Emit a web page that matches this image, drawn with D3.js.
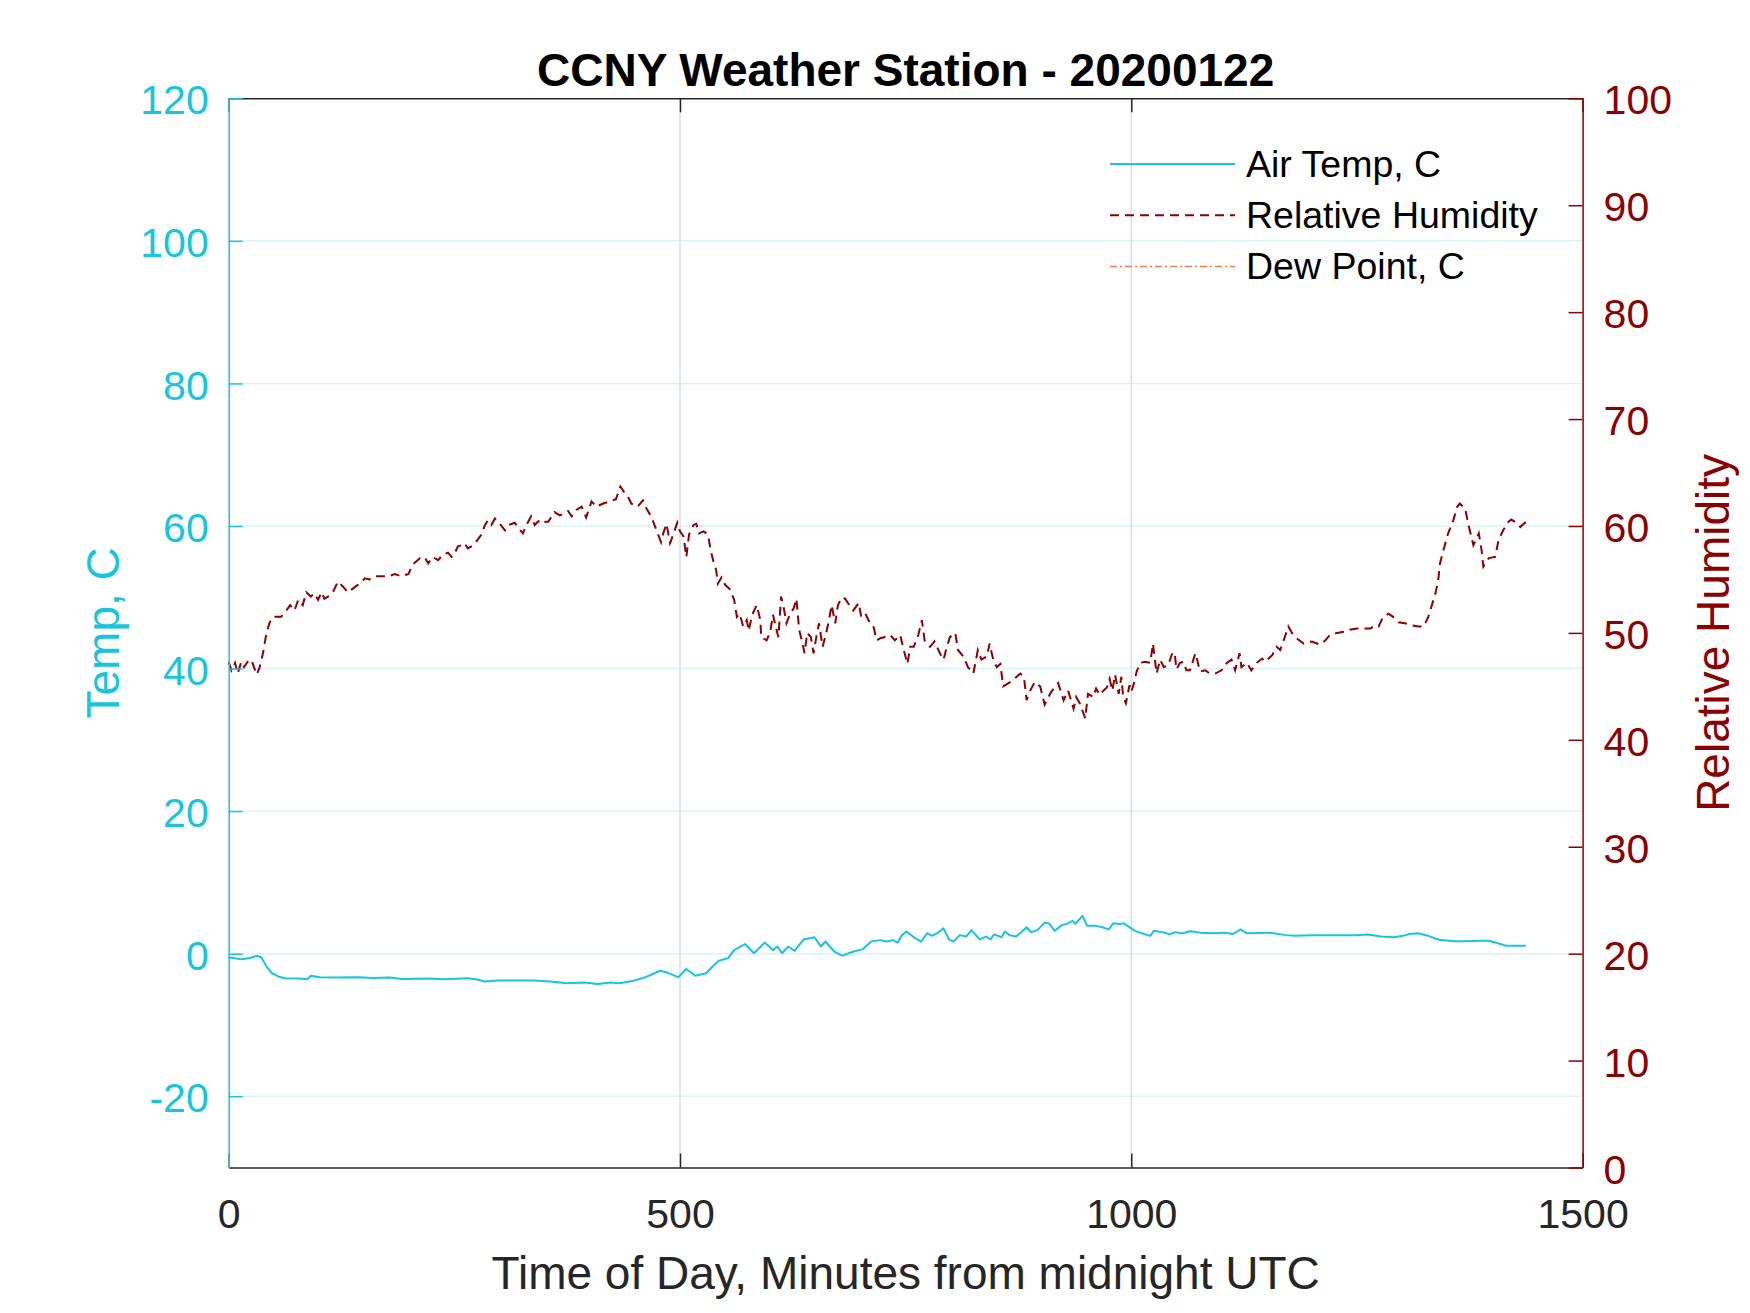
<!DOCTYPE html>
<html>
<head>
<meta charset="utf-8">
<script src="https://cdn.jsdelivr.net/npm/d3@7"></script>
<style>
  body { margin: 0; background: #fff; }
  text { font-family: "Liberation Sans", Arial, sans-serif; }
</style>
</head>
<body>
<div class="visualization"></div>
<script>
// air temperature (minutes from midnight, deg C)
const tempMinutes = [0, 14, 24, 31, 36, 43, 48, 55, 62, 77, 87, 91, 101, 120, 144, 160, 178, 192, 221, 240,
  264, 274, 284, 298, 337, 356, 375, 394, 409, 423, 433, 447, 462, 478, 486, 498, 507, 517, 529, 536,
  543, 553, 560, 572, 582, 594, 603, 608, 613, 620, 627, 637, 649, 656, 661, 671, 680, 692, 702, 712,
  722, 729, 736, 741, 746, 751, 758, 767, 774, 779, 786, 792, 798, 803, 810, 817, 823, 832, 839, 844,
  848, 856, 860, 865, 872, 877, 884, 889, 896, 904, 909, 915, 923, 930, 935, 938, 946, 951, 961, 968,
  975, 980, 987, 992, 997, 1004, 1014, 1021, 1025, 1037, 1042, 1049, 1056, 1065, 1076, 1090, 1104, 1112, 1116, 1121,
  1128, 1152, 1171, 1181, 1200, 1224, 1248, 1262, 1277, 1291, 1301, 1308, 1317, 1329, 1341, 1358, 1372, 1387, 1396, 1406,
  1415, 1437];
const tempValues = [-0.5, -0.8, -0.6, -0.3, -0.5, -2.0, -2.75, -3.2, -3.45, -3.5, -3.6, -3.1, -3.3, -3.35, -3.3, -3.4, -3.35, -3.55, -3.5, -3.6,
  -3.45, -3.6, -3.9, -3.75, -3.75, -3.9, -4.15, -4.05, -4.25, -4.05, -4.15, -3.85, -3.3, -2.4, -2.65, -3.3, -2.15, -3.1, -2.75, -1.8,
  -1.0, -0.65, 0.5, 1.35, 0.05, 1.55, 0.5, 1.0, 0.05, 1.0, 0.4, 2.0, 2.3, 1.0, 1.7, 0.3, -0.3, 0.3, 0.6, 1.7,
  1.9, 1.7, 1.9, 1.55, 2.6, 3.1, 2.4, 1.7, 2.9, 2.5, 2.95, 3.55, 2.0, 1.7, 2.6, 2.4, 3.3, 2.0, 2.4, 2.0,
  2.7, 2.3, 3.1, 2.6, 2.4, 2.85, 3.7, 3.0, 3.3, 4.35, 4.25, 3.2, 4.0, 4.25, 4.6, 4.2, 5.3, 3.9, 3.9, 3.7,
  3.4, 4.25, 4.15, 4.25, 3.8, 3.2, 2.75, 2.5, 3.2, 2.95, 2.7, 3.0, 2.85, 3.15, 2.95, 2.85, 2.95, 2.75, 3.0, 3.4,
  2.85, 2.95, 2.6, 2.5, 2.6, 2.6, 2.6, 2.7, 2.4, 2.3, 2.5, 2.75, 2.85, 2.5, 1.95, 1.75, 1.75, 1.8, 1.8, 1.45,
  1.1, 1.1];

// relative humidity, percent
const rhMinutes = [0, 3, 7, 10, 14, 17, 21, 25, 31, 34, 38, 41, 45, 49, 58, 64, 68, 73, 77, 82,
  86, 91, 95, 99, 103, 106, 112, 116, 121, 127, 132, 140, 145, 151, 156, 162, 169, 177, 184, 191,
  199, 204, 212, 217, 221, 226, 232, 237, 243, 247, 250, 254, 258, 261, 265, 271, 274, 280, 284, 287,
  291, 295, 300, 306, 310, 317, 321, 326, 330, 335, 339, 345, 350, 354, 361, 367, 372, 376, 380, 385,
  391, 396, 402, 407, 415, 422, 429, 434, 439, 442, 446, 453, 459, 463, 468, 474, 479, 481, 485, 489,
  493, 497, 500, 504, 507, 510, 515, 518, 521, 526, 531, 534, 537, 540, 542, 546, 550, 555, 560, 563,
  566, 570, 574, 576, 580, 585, 589, 590, 596, 600, 603, 606, 609, 612, 615, 618, 622, 626, 629, 632,
  635, 638, 641, 645, 648, 651, 654, 658, 662, 665, 668, 672, 675, 679, 683, 686, 692, 698, 701, 706,
  710, 714, 718, 722, 726, 733, 738, 744, 747, 752, 755, 759, 764, 768, 771, 777, 782, 788, 792, 795,
  799, 805, 808, 814, 819, 825, 830, 834, 840, 843, 847, 851, 855, 858, 864, 869, 877, 881, 884, 888,
  893, 899, 904, 910, 914, 919, 925, 930, 936, 939, 943, 949, 952, 958, 961, 965, 969, 973, 976, 979,
  982, 986, 989, 991, 994, 998, 1000, 1003, 1006, 1010, 1015, 1021, 1024, 1028, 1032, 1036, 1041, 1045, 1048, 1050,
  1054, 1058, 1061, 1065, 1071, 1073, 1076, 1082, 1087, 1093, 1100, 1106, 1111, 1115, 1120, 1122, 1128, 1133, 1139, 1145,
  1148, 1156, 1161, 1165, 1170, 1174, 1178, 1183, 1191, 1200, 1209, 1215, 1220, 1228, 1235, 1242, 1250, 1257, 1265, 1270,
  1274, 1279, 1285, 1290, 1296, 1303, 1311, 1318, 1324, 1329, 1333, 1337, 1340, 1342, 1346, 1351, 1357, 1361, 1364, 1370,
  1373, 1379, 1385, 1388, 1390, 1396, 1403, 1407, 1412, 1418, 1421, 1427, 1431, 1436, 1442];
const rhValues = [47.3, 46.5, 47.2, 46.2, 47.3, 46.8, 47.3, 47.5, 46.1, 46.7, 48.1, 49.6, 50.9, 51.5, 51.5, 52.1, 52.6, 52.1, 53.1, 52.6,
  53.8, 53.4, 53.7, 53.1, 53.8, 53.2, 53.5, 53.9, 54.8, 54.3, 53.8, 54.3, 54.6, 55.1, 55.0, 55.3, 55.3, 55.3, 55.5, 55.3,
  55.5, 56.4, 57.0, 57.1, 56.5, 57.1, 56.8, 57.3, 57.5, 57.1, 57.4, 58.1, 58.2, 58.4, 57.9, 58.2, 58.5, 59.2, 60.1, 60.5,
  60.1, 60.7, 60.25, 59.6, 60.1, 60.3, 59.8, 59.3, 60.1, 60.9, 60.1, 60.6, 60.4, 60.4, 61.3, 61.0, 61.2, 61.4, 60.9, 61.5,
  61.8, 60.8, 62.3, 61.8, 62.1, 62.3, 62.5, 63.7, 63.05, 62.8, 62.1, 61.8, 62.4, 61.6, 60.9, 59.6, 58.5, 59.2, 60.2, 58.4,
  59.3, 60.3, 59.5, 59.0, 57.1, 59.2, 60.1, 60.2, 59.3, 59.5, 59.2, 57.7, 56.7, 55.9, 54.6, 55.2, 54.5, 54.1, 53.1, 51.5,
  51.8, 50.6, 51.2, 50.2, 51.7, 52.6, 51.2, 49.6, 49.3, 50.1, 51.7, 50.6, 49.6, 53.4, 52.3, 50.9, 51.8, 52.3, 53.2, 50.3,
  49.3, 48.1, 50.0, 49.6, 48.1, 49.6, 50.9, 48.7, 50.0, 51.2, 52.6, 50.9, 52.6, 53.3, 53.2, 52.8, 52.1, 52.8, 51.4, 51.7,
  51.0, 50.7, 49.3, 49.5, 49.6, 49.8, 49.3, 49.8, 48.7, 47.1, 48.7, 48.7, 49.8, 51.2, 49.3, 48.7, 49.2, 48.1, 47.5, 48.5,
  49.6, 50.0, 48.4, 47.8, 46.8, 46.2, 48.4, 47.5, 47.8, 49.0, 47.5, 46.8, 47.1, 45.0, 45.3, 45.6, 46.2, 45.9, 43.7, 44.6,
  45.4, 45.0, 43.3, 44.3, 44.8, 45.3, 43.7, 44.6, 42.9, 44.0, 43.4, 42.0, 44.3, 44.0, 44.8, 44.2, 44.6, 44.9, 45.7, 44.6,
  46.1, 44.3, 45.9, 44.0, 43.4, 45.1, 44.5, 45.3, 46.4, 47.2, 47.3, 47.2, 49.0, 46.2, 47.5, 46.8, 47.0, 48.0, 48.2, 46.6,
  47.2, 47.3, 46.5, 46.5, 48.1, 47.5, 46.4, 46.5, 46.2, 46.2, 46.5, 47.2, 47.5, 46.5, 48.1, 46.8, 47.2, 46.5, 47.2, 47.6,
  47.3, 47.9, 48.7, 48.4, 49.6, 50.6, 50.0, 49.5, 49.0, 49.2, 48.9, 49.3, 49.8, 50.0, 50.1, 50.3, 50.4, 50.4, 50.4, 50.7,
  50.6, 51.5, 51.8, 51.5, 51.0, 50.9, 50.7, 50.6, 50.6, 51.5, 52.6, 53.7, 54.9, 56.5, 57.8, 59.3, 60.6, 61.8, 62.1, 61.6,
  60.3, 58.2, 59.3, 57.8, 56.2, 57.0, 57.1, 58.7, 59.6, 60.4, 60.6, 60.3, 59.9, 60.3, 60.4];

// dew point series has no drawn values in the picture, only its legend entry
const dewMinutes = [];
const dewValues = [];

const xTicks = [0, 500, 1000, 1500];
const leftTicks = [-20, 0, 20, 40, 60, 80, 100, 120];
const rightTicks = [0, 10, 20, 30, 40, 50, 60, 70, 80, 90, 100];
const legendLabels = ["Air Temp, C", "Relative Humidity", "Dew Point, C"];

const cyan = "#17c5dc";
const darkRed = "#8b0000";
const coral = "#f27d52";
const ink = "#262626";

const W = 1750, H = 1313;
const plotL = 228.7, plotR = 1582.6, plotT = 98.3, plotB = 1167.5;
const tickFont = 41;

const svg = d3.select(".visualization")
  .append("svg")
  .attr("width", W)
  .attr("height", H);

const x = d3.scaleLinear().domain([0, 1500]).range([plotL, plotR]);
const yTemp = d3.scaleLinear().domain([-30, 120]).range([plotB, plotT]);
const yRh = d3.scaleLinear().domain([0, 100]).range([plotB, plotT]);

// grid
svg.append("g").selectAll("line")
  .data(leftTicks.filter(d => d < 120))
  .join("line")
  .attr("x1", plotL).attr("x2", plotR)
  .attr("y1", d => yTemp(d)).attr("y2", d => yTemp(d))
  .attr("stroke", "#d9f4f8").attr("stroke-width", 1.5);

svg.append("g").selectAll("line")
  .data(xTicks.filter(d => d > 0 && d < 1500))
  .join("line")
  .attr("x1", d => x(d)).attr("x2", d => x(d))
  .attr("y1", plotT).attr("y2", plotB)
  .attr("stroke", "#dadee3").attr("stroke-width", 1.5);

// series
const zip = (ms, vs) => ms.map((m, i) => [m, vs[i]]);

svg.append("path")
  .datum(zip(rhMinutes, rhValues))
  .attr("fill", "none")
  .attr("stroke", darkRed)
  .attr("stroke-width", 2)
  .attr("stroke-dasharray", "9,6")
  .attr("d", d3.line().x(d => x(d[0])).y(d => yRh(d[1])));

svg.append("path")
  .datum(zip(dewMinutes, dewValues))
  .attr("fill", "none")
  .attr("stroke", coral)
  .attr("stroke-width", 1.5)
  .attr("stroke-dasharray", "7,3,2,3")
  .attr("d", d3.line().x(d => x(d[0])).y(d => yTemp(d[1])));

svg.append("path")
  .datum(zip(tempMinutes, tempValues))
  .attr("fill", "none")
  .attr("stroke", cyan)
  .attr("stroke-width", 2)
  .attr("stroke-linejoin", "round")
  .attr("d", d3.line().x(d => x(d[0])).y(d => yTemp(d[1])));

// axes
function styleAxis(g, color, size) {
  g.select(".domain").attr("stroke", color).attr("stroke-width", 1.5);
  g.selectAll(".tick line").attr("stroke", color).attr("stroke-width", 1.5);
  g.selectAll(".tick text")
    .attr("fill", color)
    .style("font-size", size + "px")
    .style("font-family", '"Liberation Sans", Arial, sans-serif');
}

svg.append("g")
  .attr("transform", `translate(0,${plotT})`)
  .call(d3.axisTop(x).tickValues(xTicks).tickSize(-14).tickSizeOuter(0).tickFormat(""))
  .call(g => styleAxis(g, ink, tickFont));

const xAxis = svg.append("g")
  .attr("transform", `translate(0,${plotB})`)
  .call(d3.axisBottom(x).tickValues(xTicks).tickSize(-14).tickSizeOuter(0).tickFormat(d3.format("d")))
  .call(g => styleAxis(g, ink, tickFont));
xAxis.selectAll(".tick text").attr("y", 60).attr("dy", 0);

const leftAxis = svg.append("g")
  .attr("transform", `translate(${plotL},0)`)
  .call(d3.axisLeft(yTemp).tickValues(leftTicks).tickSize(-14).tickSizeOuter(0).tickPadding(20).tickFormat(d3.format("d")))
  .call(g => styleAxis(g, cyan, tickFont));
leftAxis.selectAll(".tick text")
  .attr("dy", "0.38em")
  .text(d => d < 0 ? "-" + Math.abs(d) : d);

const rightAxis = svg.append("g")
  .attr("transform", `translate(${plotR},0)`)
  .call(d3.axisRight(yRh).tickValues(rightTicks).tickSize(-14).tickSizeOuter(0).tickPadding(21).tickFormat(d3.format("d")))
  .call(g => styleAxis(g, darkRed, tickFont));
rightAxis.selectAll(".tick text").attr("dy", "0.38em");

// labels
svg.append("text")
  .attr("x", (plotL + plotR) / 2).attr("y", 86)
  .attr("text-anchor", "middle")
  .style("font-size", "46px").style("font-weight", "bold")
  .attr("fill", "#000")
  .text("CCNY Weather Station - 20200122");

svg.append("text")
  .attr("x", (plotL + plotR) / 2).attr("y", 1289)
  .attr("text-anchor", "middle")
  .style("font-size", "46px")
  .attr("fill", ink)
  .text("Time of Day, Minutes from midnight UTC");

svg.append("text")
  .attr("transform", `translate(103,${(plotT + plotB) / 2}) rotate(-90)`)
  .attr("text-anchor", "middle")
  .attr("dominant-baseline", "central")
  .style("font-size", "46px")
  .attr("fill", cyan)
  .text("Temp, C");

svg.append("text")
  .attr("transform", `translate(1713,${(plotT + plotB) / 2}) rotate(-90)`)
  .attr("text-anchor", "middle")
  .attr("dominant-baseline", "central")
  .style("font-size", "46px")
  .attr("fill", darkRed)
  .text("Relative Humidity");

// legend
const legendStyles = [
  { color: cyan, dash: null, width: 2 },
  { color: darkRed, dash: "9,6", width: 2 },
  { color: coral, dash: "7,3,2,3", width: 1.5 }
];
const legend = svg.append("g");
const rows = legend.selectAll("g")
  .data(legendLabels)
  .join("g")
  .attr("transform", (d, i) => `translate(0,${164 + i * 51.2})`);
rows.append("line")
  .attr("x1", 1110).attr("x2", 1235)
  .attr("stroke", (d, i) => legendStyles[i].color)
  .attr("stroke-width", (d, i) => legendStyles[i].width)
  .attr("stroke-dasharray", (d, i) => legendStyles[i].dash);
rows.append("text")
  .attr("x", 1246)
  .attr("dominant-baseline", "central")
  .style("font-size", "37.5px")
  .attr("fill", "#000")
  .text(d => d);
</script>
</body>
</html>
